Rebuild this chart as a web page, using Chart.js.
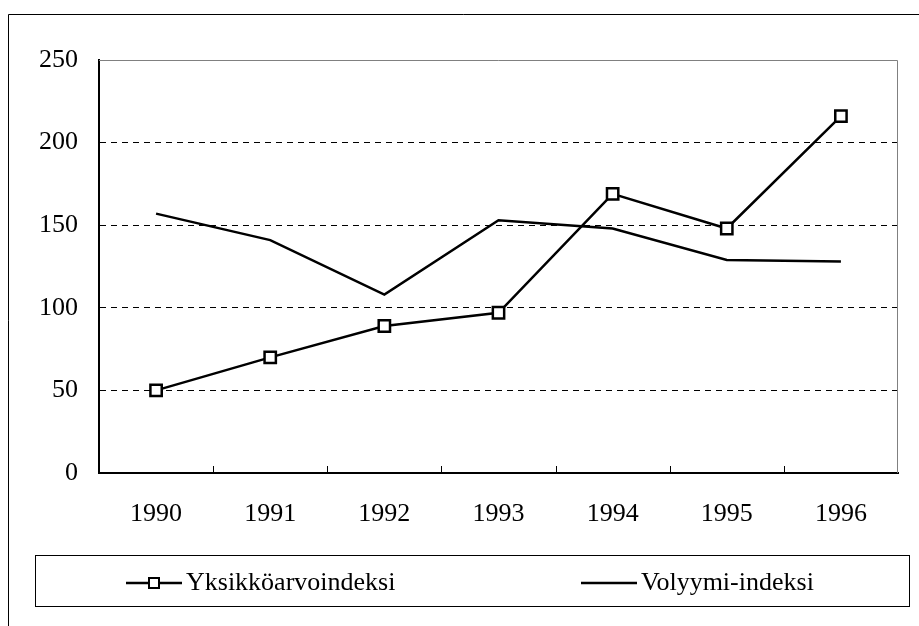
<!DOCTYPE html>
<html><head><meta charset="utf-8">
<script src="https://cdn.jsdelivr.net/npm/chart.js@4/dist/chart.umd.min.js"></script>
<style>html,body{margin:0;padding:0;background:#fff;} canvas{display:block;}</style>
</head><body>
<canvas id="c" width="919" height="626"></canvas>
<script>
const years = ['1990', '1991', '1992', '1993', '1994', '1995', '1996'];
const yksikkoarvo = [50, 70, 89, 97, 169, 148, 216];
const volyymi = [157, 141, 108, 153, 148, 129, 128];
const yTicks = [0, 50, 100, 150, 200, 250];
const seriesNames = ['Yksikköarvoindeksi', 'Volyymi-indeksi'];

const FONT = "'Liberation Serif', 'Times New Roman', serif";

const framePlugin = {
  id: 'frame',
  beforeDraw(chart) {
    const ctx = chart.ctx;
    ctx.save();
    ctx.fillStyle = '#fff';
    ctx.fillRect(0, 0, chart.width, chart.height);
    ctx.strokeStyle = '#000';
    ctx.lineWidth = 1;
    ctx.beginPath();
    ctx.moveTo(8.5, chart.height);
    ctx.lineTo(8.5, 14.5);
    ctx.lineTo(chart.width, 14.5);
    ctx.stroke();
    ctx.restore();
  },
  beforeDatasetsDraw(chart) {
    const ctx = chart.ctx, a = chart.chartArea;
    ctx.save();
    ctx.strokeStyle = '#808080';
    ctx.lineWidth = 1;
    ctx.beginPath();
    ctx.moveTo(a.left, a.top + 0.5);
    ctx.lineTo(a.right - 0.5, a.top + 0.5);
    ctx.lineTo(a.right - 0.5, a.bottom);
    ctx.stroke();
    const xs = chart.scales.x;
    ctx.strokeStyle = '#000';
    ctx.beginPath();
    for (let i = 1; i < years.length; i++) {
      const px = Math.round(xs.getPixelForValue(i - 0.5)) + 0.5;
      ctx.moveTo(px, a.bottom);
      ctx.lineTo(px, a.bottom - 7);
    }
    ctx.stroke();
    ctx.restore();
  },
  afterDraw(chart) {
    const ctx = chart.ctx;
    const box = {left: 35.5, top: 555.5, right: 909.5, bottom: 606.5};
    const cy = 583;
    const sampleX = [126, 581];
    const sampleW = 56;
    ctx.save();
    ctx.strokeStyle = '#000';
    ctx.lineWidth = 1;
    ctx.strokeRect(box.left, box.top, box.right - box.left, box.bottom - box.top);
    ctx.font = '26px ' + FONT;
    ctx.textBaseline = 'middle';
    ctx.textAlign = 'left';
    ctx.fillStyle = '#000';
    chart.data.datasets.forEach((ds, i) => {
      const sx = sampleX[i];
      ctx.strokeStyle = ds.borderColor;
      ctx.lineWidth = ds.borderWidth;
      ctx.beginPath();
      ctx.moveTo(sx, cy);
      ctx.lineTo(sx + sampleW, cy);
      ctx.stroke();
      if (ds.pointRadius > 0) {
        ctx.fillStyle = ds.pointBackgroundColor;
        ctx.fillRect(sx + sampleW / 2 - 5, cy - 5, 10, 10);
        ctx.lineWidth = 2;
        ctx.strokeRect(sx + sampleW / 2 - 5, cy - 5, 10, 10);
      }
      ctx.fillStyle = '#000';
      ctx.fillText(ds.label, sx + sampleW + 4, cy);
    });
    ctx.restore();
  }
};

new Chart(document.getElementById('c'), {
  type: 'line',
  data: {
    labels: years,
    datasets: [
      {label: seriesNames[0], data: yksikkoarvo, borderColor: '#000', borderWidth: 2.5,
       pointStyle: 'rect', pointRadius: 8, pointBorderWidth: 2.5,
       pointBackgroundColor: '#fff', pointBorderColor: '#000', tension: 0, fill: false},
      {label: seriesNames[1], data: volyymi, borderColor: '#000', borderWidth: 2.5,
       pointRadius: 0, tension: 0, fill: false}
    ]
  },
  options: {
    responsive: false,
    animation: false,
    layout: {padding: {left: 0, right: 21, top: 60, bottom: 83}},
    plugins: {legend: {display: false}, tooltip: {enabled: false}},
    scales: {
      x: {
        offset: true,
        grid: {display: false},
        border: {display: true, color: '#000', width: 2},
        ticks: {color: '#000', font: {family: FONT, size: 26}, padding: 18, maxRotation: 0},
        afterFit(s) { s.height = 70; }
      },
      y: {
        min: 0, max: 250,
        afterBuildTicks(s) { s.ticks = yTicks.map(v => ({value: v})); },
        grid: {
          drawTicks: false, lineWidth: 1,
          color: c => (c.tick && (c.tick.value === 0 || c.tick.value === 250)) ? 'rgba(0,0,0,0)' : '#000'
        },
        border: {display: true, color: '#000', width: 2, dash: [6, 5]},
        ticks: {color: '#000', font: {family: FONT, size: 26}, padding: 21},
        afterFit(s) { s.width = 99; }
      }
    }
  },
  plugins: [framePlugin]
});
</script>
</body></html>
